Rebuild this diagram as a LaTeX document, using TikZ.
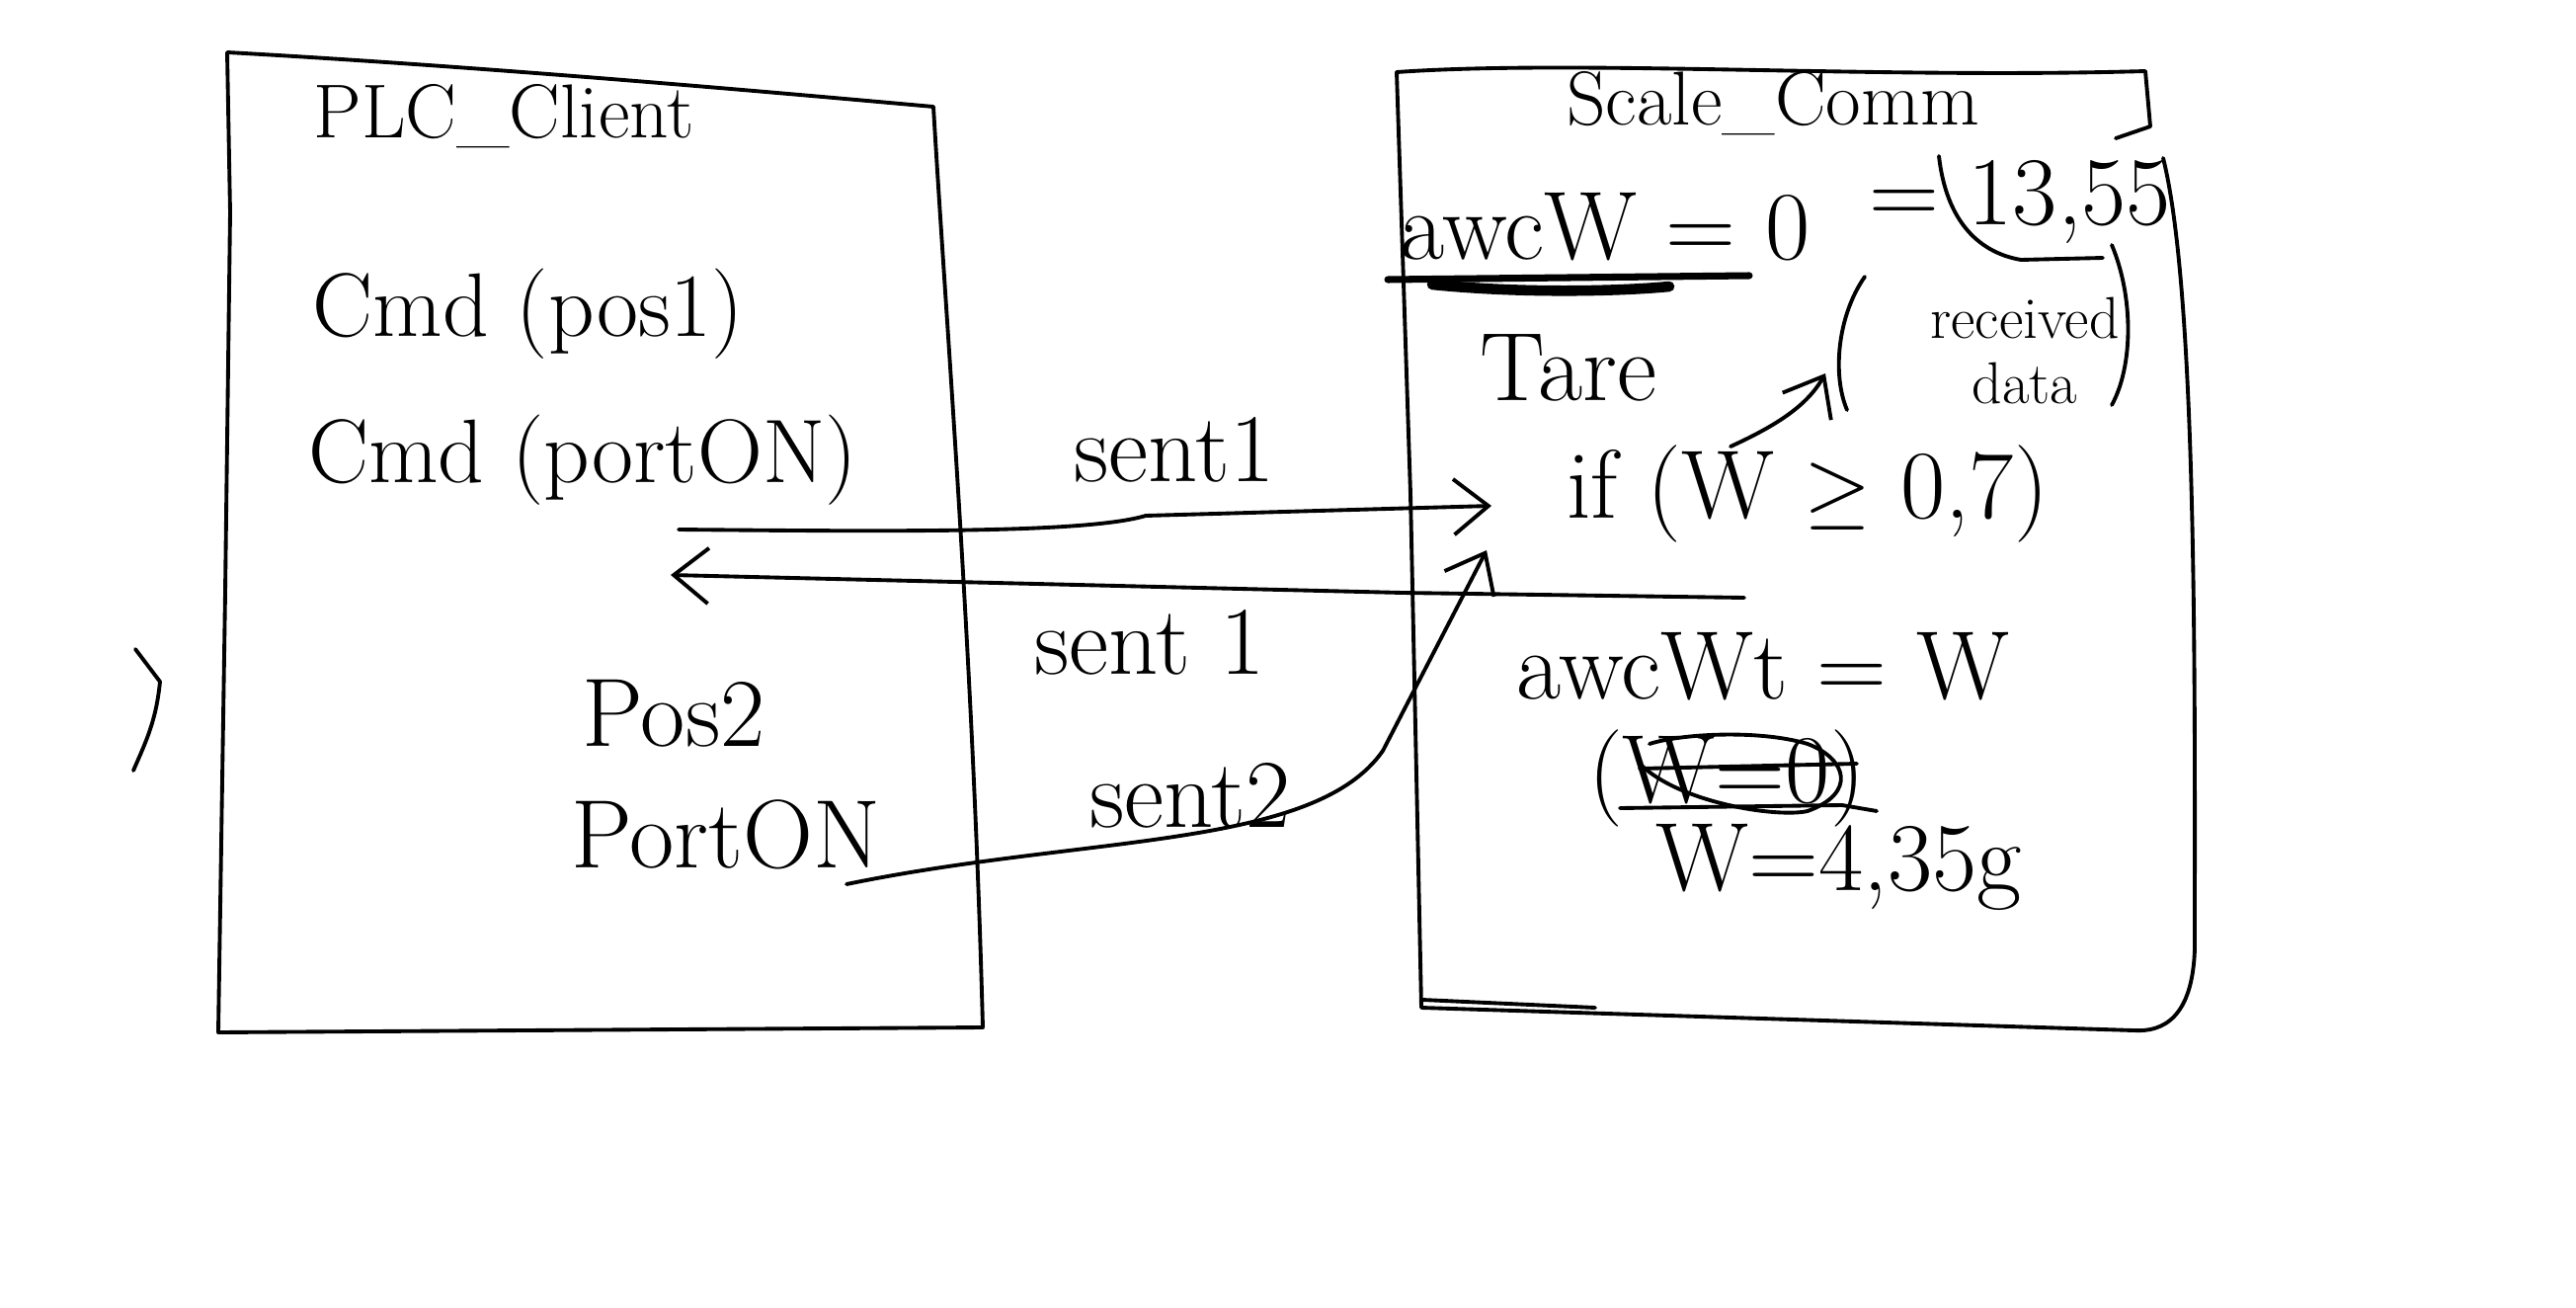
\documentclass[tikz,border=0pt]{standalone}
\usetikzlibrary{arrows.meta}
\begin{document}
\begin{tikzpicture}[x=0.01cm,y=-0.01cm, line width=1.1pt, line cap=round, line join=round,
  hand/.style={font=\fontsize{28}{32}\selectfont, inner sep=0pt},
  cmdtext/.style={font=\fontsize{26}{30}\selectfont, inner sep=0pt},
  ttl/.style={font=\fontsize{22}{26}\selectfont, inner sep=0pt},
  small/.style={font=\fontsize{17}{19}\selectfont, inner sep=0pt, align=center},
  arr/.style={-{Straight Barb[length=10pt,width=16pt]}}]
\path[use as bounding box] (0,0) rectangle (2608,1324);

% left box
\draw (230,53) .. controls (500,68) and (800,95) .. (945,108)
  .. controls (958,330) and (985,660) .. (995,1040)
  -- (221,1045) -- (228,600) -- (233,215) -- (230,53);
% stray stroke
\draw (137,657) -- (162,690) .. controls (158,730) and (148,750) .. (135,780);

% right box
\draw (1414,73) .. controls (1600,60) and (1900,80) .. (2172,72) -- (2177,128);
\draw (2177,128) -- (2142,140);
\draw (2190,160) .. controls (2225,300) and (2222,700) .. (2222,960)
  .. controls (2220,1030) and (2190,1045) .. (2160,1043)
  -- (1439,1020) -- (1428,500) -- (1414,73);
\draw (1440,1012) -- (1615,1020);

% left texts
\node[ttl]  (plc)  at (510,118) {PLC\_Client};
\node[cmdtext] (cmd1) at (535,318) {Cmd (pos1)};
\node[cmdtext] (cmd2) at (590,466) {Cmd (portON)};
\node[hand] (pos2) at (682,722) {Pos2};
\node[hand] (pon)  at (735,845) {PortON};

% labels between
\node[hand] (l1) at (1189,455) {sent1};
\node[hand] (l2) at (1164,650) {sent 1};
\node[hand] (l3) at (1205,805) {sent2};

% right texts
\node[ttl]  (sc)   at (1795,105) {Scale\_Comm};
\node[hand] (awc)  at (1625,230) {awcW = 0};
\node[hand] (val)  at (2045,205) {= 13,55};
\node[hand] (tare) at (1588,372) {Tare};
\node[small] (rec) at (2050,355) {received\\data};
\node[hand] (ifn)  at (1830,500) {if (W $\geq$ 0,7)};
\node[hand] (awt)  at (1785,675) {awcWt = W};
\node[hand] (w0)   at (1748,788) {(W=0)};
\node[hand] (w435) at (1862,878) {W=4,35g};

% underline scribble under awcW
\draw[line width=2pt] (1405,283) -- (1771,279);
\draw[line width=3pt] (1450,288) .. controls (1550,298) and (1650,294) .. (1690,290);
% bracket under 13,55
\draw (1963,158) .. controls (1970,220) and (2000,255) .. (2046,263) -- (2129,261);
% parens round received data
\draw (1888,280) .. controls (1860,320) and (1855,380) .. (1870,415);
\draw (2138,248) .. controls (2160,300) and (2160,370) .. (2138,410);
% line under if
\coordinate (ifl) at (1766,605);
% crossing of (W=0)
\draw (1660,778) -- (1880,773);
\draw (1640,818) -- (1865,815) -- (1900,821);
\draw (1660,773) .. controls (1700,813) and (1800,828) .. (1830,821)
  .. controls (1880,803) and (1870,768) .. (1830,753)
  .. controls (1780,738) and (1700,743) .. (1670,753);

% connectors
\coordinate (s1a) at (687,536);
\coordinate (s1b) at (1510,512);
\draw[arr] (s1a) .. controls (900,538) and (1100,540) .. (1160,522) -- (s1b);
\draw[arr] (ifl) -- (1420,600) -- (679,582);
\coordinate (s2a) at (857,895);
\coordinate (s2b) at (1505,557);
\draw[arr] (s2a) .. controls (1100,845) and (1330,860) .. (1400,760) -- (s2b);
\coordinate (ra) at (1752,452);
\coordinate (rb) at (1848,378);
\draw[arr] (ra) .. controls (1800,430) and (1830,410) .. (rb);
\end{tikzpicture}
\end{document}
